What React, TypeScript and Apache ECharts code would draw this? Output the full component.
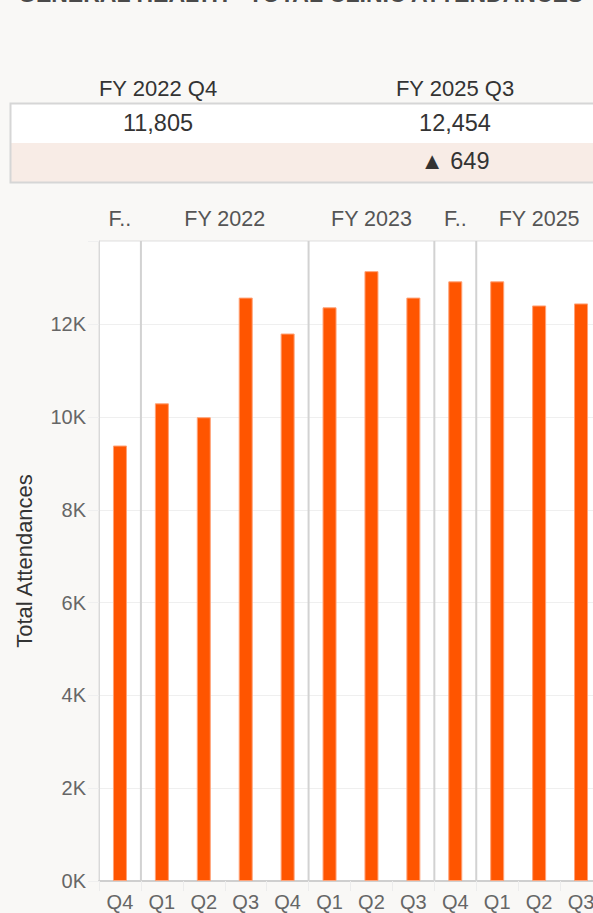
import React, { useEffect, useRef } from "react";
import * as echarts from "echarts";

const quarters = ["Q4", "Q1", "Q2", "Q3", "Q4", "Q1", "Q2", "Q3", "Q4", "Q1", "Q2", "Q3"];
const fiscalYears = ["F..", "FY 2022", "FY 2022", "FY 2022", "FY 2022", "FY 2023", "FY 2023", "FY 2023", "F..#2", "FY 2025", "FY 2025", "FY 2025"];
const attendances = [9390, 10300, 10000, 12580, 11805, 12370, 13150, 12580, 12930, 12930, 12410, 12454];
const yTicks = [0, 2000, 4000, 6000, 8000, 10000, 12000];
const compareFrom = { label: "FY 2022 Q4", index: 4 };
const compareTo = { label: "FY 2025 Q3", index: 11 };
const title = "GENERAL HEALTH - TOTAL CLINIC ATTENDANCES";

const FONT = "'Liberation Sans', Arial, sans-serif";

export default function App() {
  const ref = useRef<HTMLDivElement>(null);
  useEffect(() => {
    if (!ref.current) return;
    const chart = echarts.init(ref.current, null, { renderer: "svg" });
    const keys = quarters.map((q, i) => fiscalYears[i] + "|" + q + "|" + i);
    const groups: { start: number; end: number; label: string }[] = [];
    fiscalYears.forEach((y, i) => {
      const last = groups[groups.length - 1];
      if (last && fiscalYears[last.start] === y) last.end = i;
      else groups.push({ start: i, end: i, label: y.split("#")[0] });
    });
    const v0 = attendances[compareFrom.index];
    const v1 = attendances[compareTo.index];
    const diff = v1 - v0;
    const fmt = (n: number) => Math.abs(n).toLocaleString("en-US");

    chart.setOption({
      animation: false,
      backgroundColor: "#F9F8F6",
      textStyle: { fontFamily: FONT },
      grid: {
        left: 99,
        right: 0,
        top: 241,
        bottom: 32,
        show: true,
        backgroundColor: "#ffffff",
        borderColor: "#dcdcdc",
        borderWidth: 1,
      },
      xAxis: {
        type: "category",
        data: keys,
        axisLine: { lineStyle: { color: "#cfcfcf", width: 2 } },
        axisTick: { show: true, length: 10, lineStyle: { color: "#ececec", width: 1 } },
        axisLabel: {
          formatter: (v: string) => v.split("|")[1],
          fontSize: 20,
          color: "#666",
          margin: 11,
          fontFamily: FONT,
          interval: 0,
        },
      },
      yAxis: {
        type: "value",
        min: 0,
        max: 13800,
        interval: 2000,
        name: "Total Attendances",
        nameLocation: "middle",
        nameGap: 64,
        nameTextStyle: { fontSize: 22, color: "#333", fontFamily: FONT },
        axisLine: { show: true, lineStyle: { color: "#d9d9d9", width: 1 } },
        axisTick: { show: true, length: 11, lineStyle: { color: "#efefef" } },
        splitLine: { lineStyle: { color: "#efefef", width: 1 } },
        axisLabel: {
          fontSize: 20,
          color: "#666",
          margin: 13,
          fontFamily: FONT,
          formatter: (v: number) => (yTicks.indexOf(v) >= 0 ? v / 1000 + "K" : ""),
        },
      },
      series: [
        {
          type: "bar",
          data: attendances,
          barWidth: 14,
          itemStyle: { color: "#FF5500", borderColor: "#FFA277", borderWidth: 1 },
          z: 3,
        },
        {
          type: "custom",
          clip: false,
          data: groups.map((g) => [g.start, g.end]),
          z: 4,
          renderItem: (params: any, api: any) => {
            const g = groups[params.dataIndex];
            const band = api.size([1, 0])[0];
            const x0 = api.coord([g.start, 0])[0] - band / 2;
            const x1 = api.coord([g.end, 0])[0] + band / 2;
            const cs = params.coordSys;
            const children: any[] = [
              {
                type: "text",
                style: {
                  x: (x0 + x1) / 2,
                  y: cs.y - 22,
                  text: g.label,
                  fill: "#555",
                  font: `21.5px ${FONT}`,
                  align: "center",
                  verticalAlign: "middle",
                },
              },
            ];
            if (g.start > 0) {
              children.push({
                type: "line",
                shape: { x1: x0, y1: cs.y, x2: x0, y2: cs.y + cs.height },
                style: { stroke: "#d2d2d2", lineWidth: 2 },
              });
            }
            return { type: "group", children };
          },
        },
      ],
      graphic: [
        {
          type: "text",
          left: 18,
          top: -17.5,
          style: { text: title, fill: "#4a4a4a", font: `bold 23px ${FONT}` },
        },
        {
          type: "rect",
          shape: { x: 10, y: 103, width: 620, height: 40 },
          style: { fill: "#ffffff" },
        },
        {
          type: "rect",
          shape: { x: 10, y: 143, width: 620, height: 39 },
          style: { fill: "#F8ECE6" },
        },
        {
          type: "rect",
          shape: { x: 10.5, y: 103.5, width: 620, height: 79 },
          style: { fill: "none", stroke: "#d6d6d6", lineWidth: 2 },
        },
        {
          type: "text",
          x: 158,
          y: 88,
          style: { text: compareFrom.label, fill: "#333", font: `22px ${FONT}`, align: "center", verticalAlign: "middle" },
        },
        {
          type: "text",
          x: 455,
          y: 88,
          style: { text: compareTo.label, fill: "#333", font: `22px ${FONT}`, align: "center", verticalAlign: "middle" },
        },
        {
          type: "text",
          x: 158,
          y: 123,
          style: { text: fmt(v0), fill: "#333", font: `23.5px ${FONT}`, align: "center", verticalAlign: "middle" },
        },
        {
          type: "text",
          x: 455,
          y: 123,
          style: { text: fmt(v1), fill: "#333", font: `23.5px ${FONT}`, align: "center", verticalAlign: "middle" },
        },
        {
          type: "text",
          x: 455,
          y: 161,
          style: {
            text: (diff >= 0 ? "▲ " : "▼ ") + fmt(diff),
            fill: "#333",
            font: `23.5px ${FONT}`,
            align: "center",
            verticalAlign: "middle",
          },
        },
      ],
    });
    return () => chart.dispose();
  }, []);

  return (
    <div style={{ position: "fixed", left: 0, top: 0, width: 593, height: 913, overflow: "hidden", background: "#F9F8F6" }}>
      <div ref={ref} style={{ width: 602, height: 913 }} />
    </div>
  );
}
